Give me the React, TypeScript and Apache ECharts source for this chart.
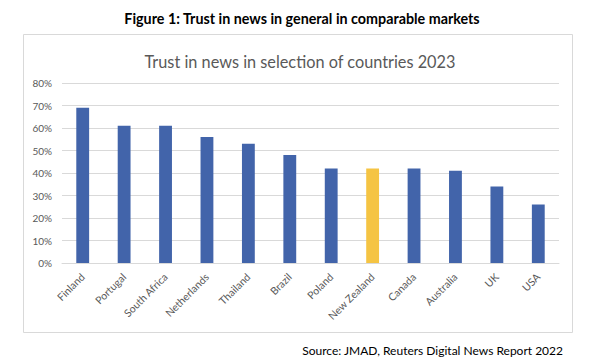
import React, { useEffect, useRef } from "react";
import * as echarts from "echarts";

const categories = ["Finland", "Portugal", "South Africa", "Netherlands", "Thailand", "Brazil", "Poland", "New Zealand", "Canada", "Australia", "UK", "USA"];
const trustValues = [69, 61, 61, 56, 53, 48, 42, 42, 42, 41, 34, 26];
const highlightCategory = "New Zealand";
const yTicks = [0, 10, 20, 30, 40, 50, 60, 70, 80];

const BLUE = "#4264AA";
const GOLD = "#F5C443";

export default function App() {
  const ref = useRef<HTMLDivElement>(null);
  useEffect(() => {
    if (!ref.current) return;
    const chart = echarts.init(ref.current, null, { renderer: "svg" });
    chart.setOption({
      animation: false,
      backgroundColor: "#ffffff",
      graphic: [
        {
          type: "rect",
          shape: { x: 23.5, y: 34.5, width: 549, height: 298 },
          style: { fill: "none", stroke: "#D9D9D9", lineWidth: 1 },
          silent: true,
        },
        {
          type: "text",
          x: 302,
          y: 18,
          style: {
            text: "Figure 1: Trust in news in general in comparable markets",
            font: "bold 14.3px Lato",
            fill: "#000000",
            textAlign: "center",
            textVerticalAlign: "middle",
          },
        },
        {
          type: "text",
          x: 563,
          y: 350,
          style: {
            text: "Source: JMAD, Reuters Digital News Report 2022",
            font: "12px Lato",
            fill: "#000000",
            textAlign: "right",
            textVerticalAlign: "middle",
          },
        },
      ],
      title: {
        text: "Trust in news in selection of countries 2023",
        left: "center",
        top: 48,
        textStyle: { fontFamily: "Lato", fontSize: 16.3, fontWeight: "normal", color: "#595959" },
      },
      grid: { left: 62, right: 41, top: 83, bottom: 100, containLabel: false },
      xAxis: {
        type: "category",
        data: categories,
        axisTick: { show: false },
        axisLine: { lineStyle: { color: "#D9D9D9" } },
        axisLabel: { rotate: 45, fontFamily: "Lato", fontSize: 10.5, color: "#595959", margin: 12, interval: 0 },
      },
      yAxis: {
        type: "value",
        min: yTicks[0],
        max: yTicks[yTicks.length - 1],
        interval: 10,
        axisLine: { show: false },
        axisTick: { show: false },
        splitLine: { lineStyle: { color: "#D9D9D9", width: 1 } },
        axisLabel: { formatter: "{value}%", fontFamily: "Lato", fontSize: 10, color: "#595959", margin: 10 },
      },
      series: [
        {
          type: "bar",
          barWidth: "31%",
          data: trustValues.map((v, i) => ({
            value: v,
            itemStyle: { color: categories[i] === highlightCategory ? GOLD : BLUE },
          })),
        },
      ],
    });
    return () => chart.dispose();
  }, []);
  return <div ref={ref} style={{ width: 600, height: 363, position: "absolute", left: 0, top: 0 }} />;
}
